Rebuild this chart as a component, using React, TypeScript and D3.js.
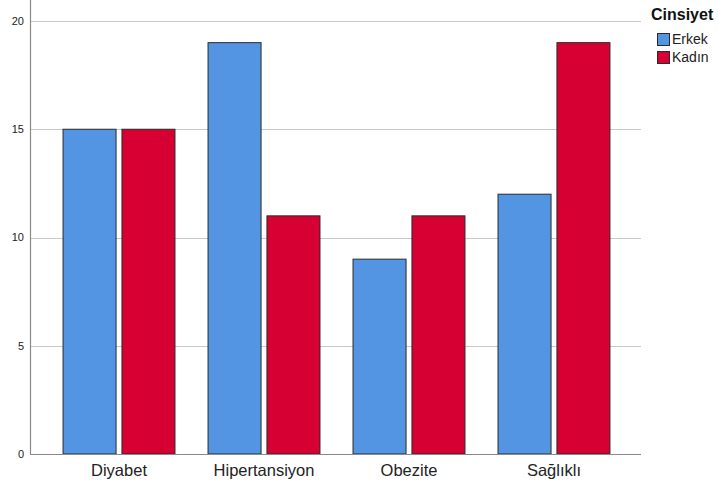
import React from "react";
import * as d3 from "d3";

const categories = ["Diyabet", "Hipertansiyon", "Obezite", "Sağlıklı"];
const seriesNames = ["Erkek", "Kadın"];
const erkekValues = [15, 19, 9, 12];
const kadinValues = [15, 11, 11, 19];
const yTicks = [0, 5, 10, 15, 20];
const legendTitle = "Cinsiyet";

const colors = ["#5394e3", "#d60032"];

const W = 718;
const H = 486;
const left = 30;
const right = 641;
const bottom = 454;
const top = 0;

export default function App() {
  const x0 = d3
    .scaleBand<string>()
    .domain(categories)
    .range([left + 1, right + 1])
    .paddingInner(0.228)
    .paddingOuter(0.221);
  const x1 = d3
    .scaleBand<string>()
    .domain(seriesNames)
    .range([0, x0.bandwidth()])
    .paddingInner(0.1);
  const y = d3.scaleLinear().domain([0, 20]).range([bottom, 21]);
  const series = [erkekValues, kadinValues];

  return (
    <svg
      width={W}
      height={H}
      style={{ position: "absolute", left: 0, top: 0, background: "#fff" }}
      fontFamily="Arial, 'Liberation Sans', sans-serif"
    >
      {yTicks.map((t) =>
        t > 0 ? (
          <line
            key={"g" + t}
            x1={left}
            x2={right}
            y1={Math.round(y(t)) + 0.5}
            y2={Math.round(y(t)) + 0.5}
            stroke="#c8c8c8"
            strokeWidth={1}
          />
        ) : null
      )}
      {categories.map((c, i) => (
        <g key={c} transform={`translate(${x0(c)},0)`}>
          {seriesNames.map((s, j) => (
            <rect
              key={s}
              x={x1(s)!}
              y={y(series[j][i])}
              width={x1.bandwidth()}
              height={bottom - y(series[j][i])}
              fill={colors[j]}
              stroke="#2b2b2b"
              strokeWidth={1}
            />
          ))}
        </g>
      ))}
      <line x1={left + 0.5} x2={left + 0.5} y1={top} y2={bottom} stroke="#8a8a8a" strokeWidth={1.2} />
      <line x1={left} x2={right} y1={bottom + 0.5} y2={bottom + 0.5} stroke="#8a8a8a" strokeWidth={1.2} />
      {yTicks.map((t) => (
        <text
          key={"t" + t}
          x={24}
          y={y(t)}
          dy="0.35em"
          textAnchor="end"
          fontSize={11}
          fill="#222"
        >
          {t}
        </text>
      ))}
      {categories.map((c) => (
        <text
          key={"c" + c}
          x={x0(c)! + x0.bandwidth() / 2}
          y={476}
          textAnchor="middle"
          fontSize={16.5}
          fill="#222"
        >
          {c}
        </text>
      ))}
      <text x={651} y={20} fontSize={16} fontWeight="bold" fill="#111">
        {legendTitle}
      </text>
      {seriesNames.map((s, j) => (
        <g key={"l" + s} transform={`translate(657,${33 + j * 18})`}>
          <rect x={0.5} y={0.5} width={12} height={12} fill={colors[j]} stroke="#2b2b2b" strokeWidth={1} />
          <text x={15} y={11} fontSize={14} fill="#222">
            {s}
          </text>
        </g>
      ))}
    </svg>
  );
}
